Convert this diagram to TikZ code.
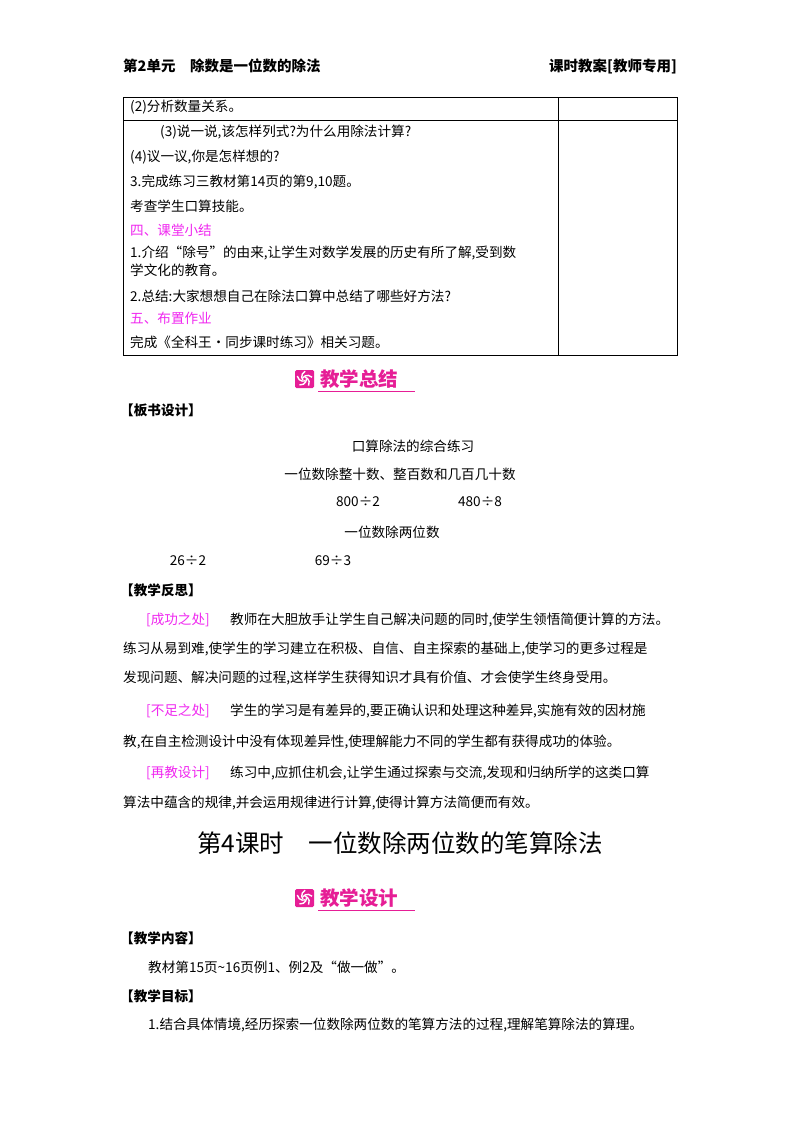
\documentclass[tikz,border=0pt]{standalone}
\usepackage{fontspec}
\setmainfont{Noto Sans CJK SC}
\definecolor{mag}{RGB}{230,30,150}
\definecolor{pk}{RGB}{240,40,240}
\begin{document}
\begin{tikzpicture}[x=1pt,y=-1pt,
 tx/.style={anchor=west,inner sep=0pt,font=\fontsize{13.6}{15}\selectfont},
 ct/.style={anchor=center,inner sep=0pt,font=\fontsize{13.6}{15}\selectfont},
 hd/.style={anchor=west,inner sep=0pt,font=\fontsize{14.5}{16}\selectfont\bfseries},
 pkt/.style={tx,text=pk},
 ban/.style={anchor=west,inner sep=0pt,font=\fontsize{19.5}{21}\selectfont\bfseries,text=mag}]
\useasboundingbox[fill=white] (0,0) rectangle (800,1132);
% header
\node[hd] (h1) at (123,66) {第2单元\quad 除数是一位数的除法};
\node[hd,anchor=east] (h2) at (677,66) {课时教案[教师专用]};
% table
\draw[line width=0.9pt] (123,97) rectangle (677,355);
\draw[line width=0.9pt] (558,97) -- (558,355);
\draw[line width=0.9pt] (123,120) -- (677,120);
\node[tx] (t1) at (130,107) {(2)分析数量关系。};
\node[tx] (t2) at (160,132) {(3)说一说,该怎样列式?为什么用除法计算?};
\node[tx] (t3) at (130,157) {(4)议一议,你是怎样想的?};
\node[tx] (t4) at (130,182) {3.完成练习三教材第14页的第9,10题。};
\node[tx] (t5) at (130,206) {考查学生口算技能。};
\node[pkt] (t6) at (130,230) {四、课堂小结};
\node[tx] (t7) at (130,253) {1.介绍“除号”的由来,让学生对数学发展的历史有所了解,受到数};
\node[tx] (t8) at (130,270) {学文化的教育。};
\node[tx] (t9) at (130,296) {2.总结:大家想想自己在除法口算中总结了哪些好方法?};
\node[pkt] (t10) at (130,318) {五、布置作业};
\node[tx] (t11) at (130,342) {完成《全科王·同步课时练习》相关习题。};
% banners
\foreach \yy/\txt/\nm in {379/教学总结/b1, 898/教学设计/b2}{
 \fill[mag,rounded corners=1.5pt] (295,\yy-9) rectangle (314,\yy+9);
 \foreach \a in {0,72,144,216,288}
   \draw[white,line width=1.4pt] (304.5,\yy) ++(\a:2) arc[start angle=\a,end angle=\a+100,radius=6];
 \node[ban] (\nm) at (320,\yy) {\txt};
 \draw[mag,line width=0.7pt] (318,\yy+12) -- (415,\yy+12);
}
\node[hd,font=\fontsize{13.6}{15}\selectfont\bfseries] (bs) at (120,410) {【板书设计】};
\node[ct] (c1) at (413,446) {口算除法的综合练习};
\node[ct] (c2) at (400,474) {一位数除整十数、整百数和几百几十数};
\node[ct] (c3) at (358,502) {800÷2};
\node[ct] (c4) at (480,502) {480÷8};
\node[ct] (c5) at (392,532) {一位数除两位数};
\node[ct] (c6) at (188,561) {26÷2};
\node[ct] (c7) at (333,561) {69÷3};
\node[hd,font=\fontsize{13.6}{15}\selectfont\bfseries] (fs) at (120,590) {【教学反思】};
\node[pkt] (p1a) at (146,620) {[成功之处]};
\node[tx] (p1) at (230,620) {教师在大胆放手让学生自己解决问题的同时,使学生领悟简便计算的方法。};
\node[tx] (p2) at (123,649) {练习从易到难,使学生的学习建立在积极、自信、自主探索的基础上,使学习的更多过程是};
\node[tx] (p3) at (123,678) {发现问题、解决问题的过程,这样学生获得知识才具有价值、才会使学生终身受用。};
\node[pkt] (p4a) at (146,711) {[不足之处]};
\node[tx] (p4) at (230,711) {学生的学习是有差异的,要正确认识和处理这种差异,实施有效的因材施};
\node[tx] (p5) at (123,742) {教,在自主检测设计中没有体现差异性,使理解能力不同的学生都有获得成功的体验。};
\node[pkt] (p6a) at (146,773) {[再教设计]};
\node[tx] (p6) at (230,773) {练习中,应抓住机会,让学生通过探索与交流,发现和归纳所学的这类口算};
\node[tx] (p7) at (123,803) {算法中蕴含的规律,并会运用规律进行计算,使得计算方法简便而有效。};
\node[ct,font=\fontsize{24.5}{27}\selectfont] (title) at (400,843) {第4课时\quad 一位数除两位数的笔算除法};
\node[hd,font=\fontsize{13.6}{15}\selectfont\bfseries] (nr) at (120,938) {【教学内容】};
\node[tx] (n1) at (148,967) {教材第15页\textasciitilde 16页例1、例2及“做一做”。};
\node[hd,font=\fontsize{13.6}{15}\selectfont\bfseries] (mb) at (120,996) {【教学目标】};
\node[tx] (m1) at (148,1025) {1.结合具体情境,经历探索一位数除两位数的笔算方法的过程,理解笔算除法的算理。};
\end{tikzpicture}
\end{document}
